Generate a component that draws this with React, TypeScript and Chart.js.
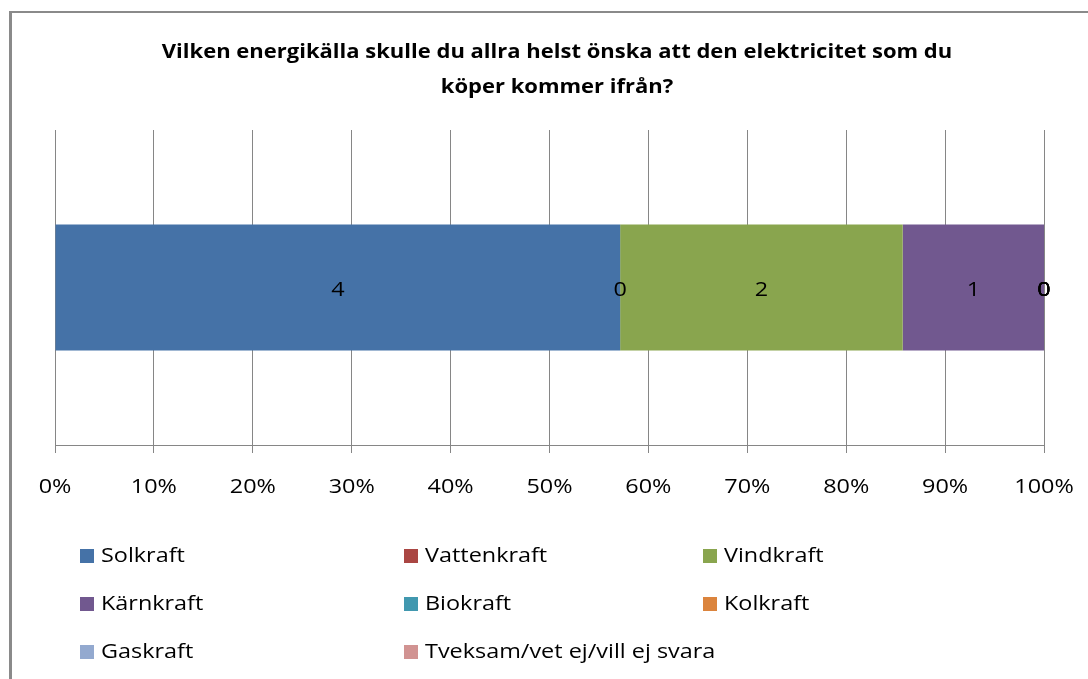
import React, { useEffect, useRef } from "react";
import { Chart, registerables } from "chart.js";

Chart.register(...registerables);

const TITLE_LINES = [
  "Vilken energikälla skulle du allra helst önska att den elektricitet som du",
  "köper kommer ifrån?",
];
const CATEGORIES = [""];
const SERIES_NAMES = [
  "Solkraft",
  "Vattenkraft",
  "Vindkraft",
  "Kärnkraft",
  "Biokraft",
  "Kolkraft",
  "Gaskraft",
  "Tveksam/vet ej/vill ej svara",
];
const SERIES_COUNTS = [4, 0, 2, 1, 0, 0, 0, 0];
const SERIES_COLORS = [
  "#4572A7",
  "#AA4643",
  "#89A54E",
  "#71588F",
  "#4198AF",
  "#DB843D",
  "#93A9CF",
  "#D19392",
];
const X_MIN = 0;
const X_MAX = 100;
const X_STEP = 10;

const FONT = "'Open Sans', Lato, sans-serif";
const STRETCH = 1.17;
const TITLE_STRETCH = 1.1;

function stretchedText(
  ctx: CanvasRenderingContext2D,
  text: string,
  x: number,
  y: number,
  sx: number,
  align: "left" | "center"
) {
  ctx.save();
  ctx.translate(x, y);
  ctx.scale(sx, 1);
  ctx.textAlign = align;
  ctx.textBaseline = "middle";
  ctx.fillText(text, 0, 0);
  ctx.restore();
}

const decorPlugin = {
  id: "decor",
  beforeDraw(chart: any) {
    const ctx = chart.ctx;
    ctx.save();
    ctx.fillStyle = "#ffffff";
    ctx.fillRect(0, 0, chart.width, chart.height);
    ctx.fillStyle = "#8a8a8a";
    ctx.fillRect(9, 11, 3, chart.height);
    ctx.fillRect(9, 11, chart.width, 2);
    ctx.restore();
  },
  afterDraw(chart: any) {
    const ctx = chart.ctx;
    ctx.save();
    ctx.fillStyle = "#000";
    // title
    ctx.font = `bold 20px ${FONT}`;
    stretchedText(ctx, TITLE_LINES[0], 557, 52, TITLE_STRETCH, "center");
    stretchedText(ctx, TITLE_LINES[1], 557, 87, TITLE_STRETCH, "center");

    // tick labels
    ctx.font = `20px ${FONT}`;
    const xs = chart.scales.x;
    xs.ticks.forEach((t: any, i: number) => {
      const px = xs.getPixelForTick(i);
      stretchedText(ctx, `${t.value}%`, px, 487, STRETCH, "center");
    });

    // data labels
    chart.data.datasets.forEach((ds: any, i: number) => {
      const meta = chart.getDatasetMeta(i);
      meta.data.forEach((el: any) => {
        const cx = (el.x + el.base) / 2;
        stretchedText(ctx, String(SERIES_COUNTS[i]), cx, el.y + 3, STRETCH, "center");
      });
    });

    // legend
    const cols = [80, 404, 703];
    const rows = [556, 604, 652];
    SERIES_NAMES.forEach((name, i) => {
      const x = cols[i % 3];
      const y = rows[Math.floor(i / 3)];
      ctx.fillStyle = SERIES_COLORS[i];
      ctx.fillRect(x, y - 7, 14, 14);
      ctx.fillStyle = "#000";
      stretchedText(ctx, name, x + 21, y, STRETCH, "left");
    });
    ctx.restore();
  },
};

export default function App() {
  const ref = useRef<HTMLCanvasElement | null>(null);
  useEffect(() => {
    if (!ref.current) return;
    const total = SERIES_COUNTS.reduce((a, b) => a + b, 0);
    const chart = new Chart(ref.current, {
      type: "bar",
      data: {
        labels: CATEGORIES,
        datasets: SERIES_NAMES.map((name, i) => ({
          label: name,
          data: [(SERIES_COUNTS[i] / total) * 100],
          backgroundColor: SERIES_COLORS[i],
          borderWidth: 0,
          categoryPercentage: 0.4,
          barPercentage: 1,
        })),
      },
      options: {
        indexAxis: "y",
        animation: false,
        responsive: false,
        layout: { padding: { left: 55, right: 44, top: 130, bottom: 174 } },
        plugins: {
          legend: { display: false },
          title: { display: false },
          tooltip: { enabled: false },
        },
        scales: {
          y: { stacked: true, display: false },
          x: {
            stacked: true,
            min: X_MIN,
            max: X_MAX,
            afterFit: (scale: any) => {
              scale.height = 60;
            },
            ticks: {
              stepSize: X_STEP,
              callback: (v: any) => `${v}%`,
              color: "rgba(0,0,0,0)",
              font: { family: FONT, size: 20 },
              padding: 18,
              maxRotation: 0,
              autoSkip: false,
            },
            grid: {
              color: "#868686",
              lineWidth: 1,
              tickLength: 8,
              drawOnChartArea: true,
            },
            border: { display: true, color: "#868686", width: 1 },
          },
        },
      },
      plugins: [decorPlugin],
    } as any);
    return () => chart.destroy();
  }, []);
  return (
    <div style={{ position: "absolute", left: 0, top: 0, width: 1088, height: 679, overflow: "hidden" }}>
      <canvas ref={ref} width={1088} height={679} style={{ display: "block" }} />
    </div>
  );
}
